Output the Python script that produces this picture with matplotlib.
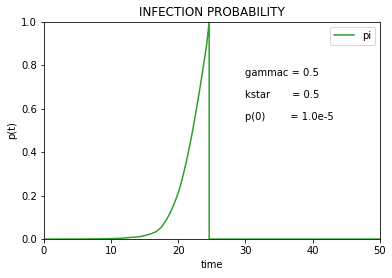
import matplotlib
matplotlib.use("Agg")
import matplotlib.pyplot as plt

# values
time = [0, 5, 8, 10, 11, 12, 13, 14.2, 15, 16, 16.7, 17.5, 18.2, 18.7, 19.2, 19.7, 20.2, 20.7,
        21.2, 21.7, 22.2, 22.7, 23.2, 23.7, 24.2, 24.6, 24.6, 50]
p = [0.0, 0.0003, 0.001, 0.002, 0.003, 0.005, 0.008, 0.011, 0.016, 0.025, 0.034, 0.055, 0.087,
     0.115, 0.149, 0.188, 0.233, 0.292, 0.356, 0.43, 0.51, 0.60, 0.69, 0.79, 0.89, 1.0, 0.0, 0.0]

params = ["gammac = 0.5", "kstar       = 0.5", "p(0)        = 1.0e-5"]
param_y = [0.75, 0.65, 0.55]

fig = plt.figure(figsize=(392 / 72, 278 / 72), dpi=72)
ax = fig.add_axes([0.112, 0.140, 0.857, 0.781])

ax.plot(time, p, color="tab:green", label="pi")
for txt, y in zip(params, param_y):
    ax.text(30, y, txt)

ax.set_xlim(0, 50)
ax.set_ylim(0, 1)
ax.set_title("INFECTION PROBABILITY")
ax.set_xlabel("time")
ax.set_ylabel("p(t)")
ax.legend(loc="upper right")

fig.savefig("out.png", dpi=72)
